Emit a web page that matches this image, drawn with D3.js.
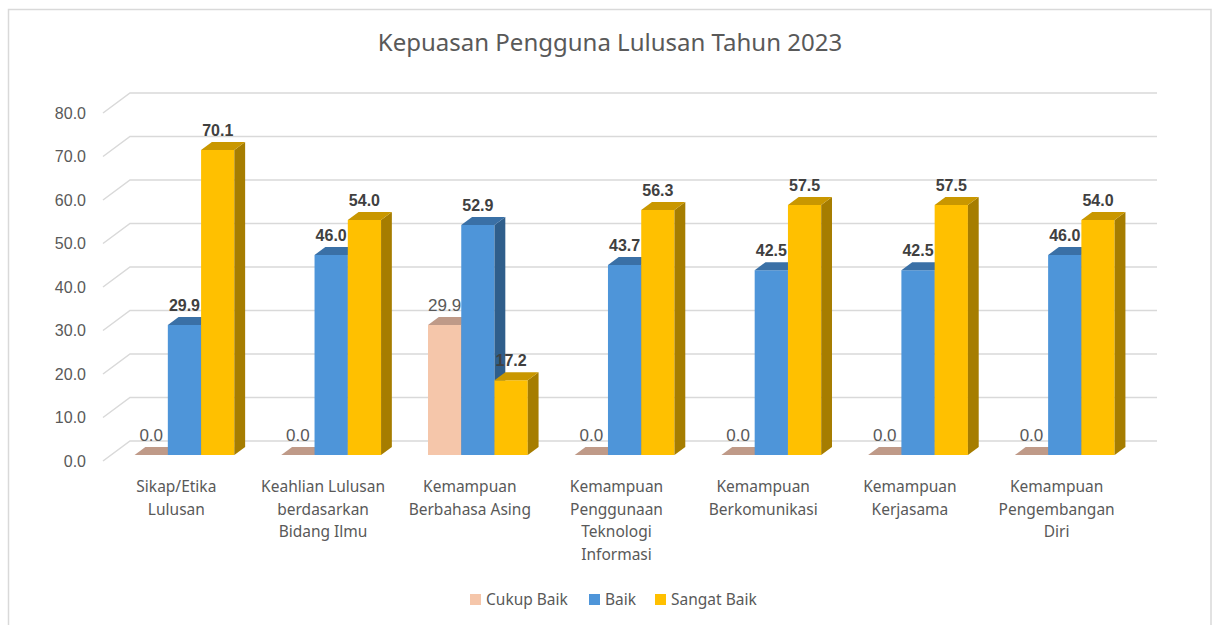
<!DOCTYPE html>
<html>

<head>
  <meta charset="utf8">
  <script src="https://d3js.org/d3.v7.min.js"></script>
  <style>
    body {
      margin: 0;
      background: #fff;
    }

    .title {
      font-family: "Noto Sans", sans-serif;
      font-size: 24px;
      fill: #595959;
      text-anchor: middle;
    }

    .ytick {
      font-family: "Liberation Sans", Arial, sans-serif;
      font-size: 16px;
      fill: #595959;
      text-anchor: end;
    }

    .cat {
      font-family: "Noto Sans", sans-serif;
      font-size: 15.5px;
      fill: #595959;
      text-anchor: middle;
    }

    .val {
      font-family: "Liberation Sans", Arial, sans-serif;
      text-anchor: middle;
    }

    .legend text {
      font-family: "Noto Sans", sans-serif;
      font-size: 15.5px;
      fill: #595959;
    }
  </style>
</head>

<body>
  <svg id="chart" width="1213" height="625"></svg>
  <script>
    var chart = d3.select('#chart');

    var categories = [
      "Sikap/Etika Lulusan",
      "Keahlian Lulusan berdasarkan Bidang Ilmu",
      "Kemampuan Berbahasa Asing",
      "Kemampuan Penggunaan Teknologi Informasi",
      "Kemampuan Berkomunikasi",
      "Kemampuan Kerjasama",
      "Kemampuan Pengembangan Diri"
    ];
    var categoryLines = [
      ["Sikap/Etika", "Lulusan"],
      ["Keahlian Lulusan", "berdasarkan", "Bidang Ilmu"],
      ["Kemampuan", "Berbahasa Asing"],
      ["Kemampuan", "Penggunaan", "Teknologi", "Informasi"],
      ["Kemampuan", "Berkomunikasi"],
      ["Kemampuan", "Kerjasama"],
      ["Kemampuan", "Pengembangan", "Diri"]
    ];
    var series = ["Cukup Baik", "Baik", "Sangat Baik"];
    var cukupBaik = [0.0, 0.0, 29.9, 0.0, 0.0, 0.0, 0.0];
    var baik = [29.9, 46.0, 52.9, 43.7, 42.5, 42.5, 46.0];
    var sangatBaik = [70.1, 54.0, 17.2, 56.3, 57.5, 57.5, 54.0];
    var yTicks = [0, 10, 20, 30, 40, 50, 60, 70, 80];

    var values = [cukupBaik, baik, sangatBaik];
    var faces = {
      "Cukup Baik": { front: '#F5C6AA', top: '#BF9A88', side: '#A9836F', label: '#595959', weight: 'normal', size: '17px' },
      "Baik": { front: '#4E95D9', top: '#3A70A6', side: '#2F5E8B', label: '#404040', weight: 'bold', size: '16px' },
      "Sangat Baik": { front: '#FFC000', top: '#C99700', side: '#A67D00', label: '#404040', weight: 'bold', size: '16px' }
    };

    // depth projection: full depth shifts right and up
    var depthX = 27, depthY = -20;
    function proj(x, y, d) {
      return [x + d * depthX, y + d * depthY];
    }

    var x = d3.scaleBand().domain(categories).range([103, 1130]);
    var bw = x.bandwidth();
    var x1 = d3.scaleBand().domain(series).range([bw * 0.16, bw * 0.84]);
    var y = d3.scaleLinear().domain([0, 80]).range([461, 113]);

    // border
    chart.append('rect')
      .attr('x', 8.5).attr('y', 9.5)
      .attr('width', 1202.5).attr('height', 640)
      .attr('fill', 'none')
      .attr('stroke', '#d9d9d9')
      .attr('stroke-width', 1.5);

    chart.append('text')
      .attr('class', 'title')
      .attr('x', 610)
      .attr('y', 51)
      .text('Kepuasan Pengguna Lulusan Tahun 2023');

    // grid: back wall + side diagonal
    var grid = chart.append('g');
    yTicks.forEach(function (t) {
      var a = proj(103, y(t), 0), b = proj(103, y(t), 1), c = proj(1130, y(t), 1);
      grid.append('path')
        .attr('d', 'M' + a + 'L' + b + 'L' + c)
        .attr('fill', 'none')
        .attr('stroke', '#d9d9d9')
        .attr('stroke-width', 1.5);
      grid.append('text')
        .attr('class', 'ytick')
        .attr('x', 86)
        .attr('y', y(t))
        .attr('dy', '0.36em')
        .text(t.toFixed(1));
    });

    // bars
    var d0 = 0.3, d1 = 0.7;
    var bars = chart.append('g');
    categories.forEach(function (cat, i) {
      series.forEach(function (s, j) {
        var v = values[j][i];
        var f = faces[s];
        var xl = x(cat) + x1(s), xr = xl + x1.bandwidth();
        var yb = y(0), yt = y(v);
        var fl = proj(xl, yb, d0), fr = proj(xr, yb, d0);
        var tl = proj(xl, yt, d0), tr = proj(xr, yt, d0);
        var btl = proj(xl, yt, d1), btr = proj(xr, yt, d1), bbr = proj(xr, yb, d1);
        var g = bars.append('g');
        if (v > 0) {
          g.append('path')
            .attr('d', 'M' + fl + 'L' + tl + 'L' + tr + 'L' + fr + 'Z')
            .attr('fill', f.front);
          g.append('path')
            .attr('d', 'M' + fr + 'L' + tr + 'L' + btr + 'L' + bbr + 'Z')
            .attr('fill', f.side);
        }
        g.append('path')
          .attr('d', 'M' + tl + 'L' + btl + 'L' + btr + 'L' + tr + 'Z')
          .attr('fill', f.top);

        g.append('text')
          .attr('class', 'val')
          .attr('x', (tl[0] + tr[0]) / 2)
          .attr('y', tl[1] - 14)
          .attr('fill', f.label)
          .attr('font-weight', f.weight)
          .attr('font-size', f.size)
          .text(v.toFixed(1));
      });
    });

    // category labels
    categories.forEach(function (cat, i) {
      var t = chart.append('text')
        .attr('class', 'cat')
        .attr('x', x(cat) + bw / 2)
        .attr('y', 492);
      categoryLines[i].forEach(function (line, k) {
        t.append('tspan')
          .attr('x', x(cat) + bw / 2)
          .attr('dy', k === 0 ? 0 : 22.5)
          .text(line);
      });
    });

    // legend
    var legendX = [470, 589, 655];
    var legend = chart.append('g').attr('class', 'legend');
    series.forEach(function (s, j) {
      var g = legend.append('g').attr('transform', 'translate(' + legendX[j] + ',594)');
      g.append('rect').attr('width', 11).attr('height', 11).attr('fill', faces[s].front);
      g.append('text').attr('x', 16).attr('y', 11).text(s);
    });
  </script>
</body>

</html>
